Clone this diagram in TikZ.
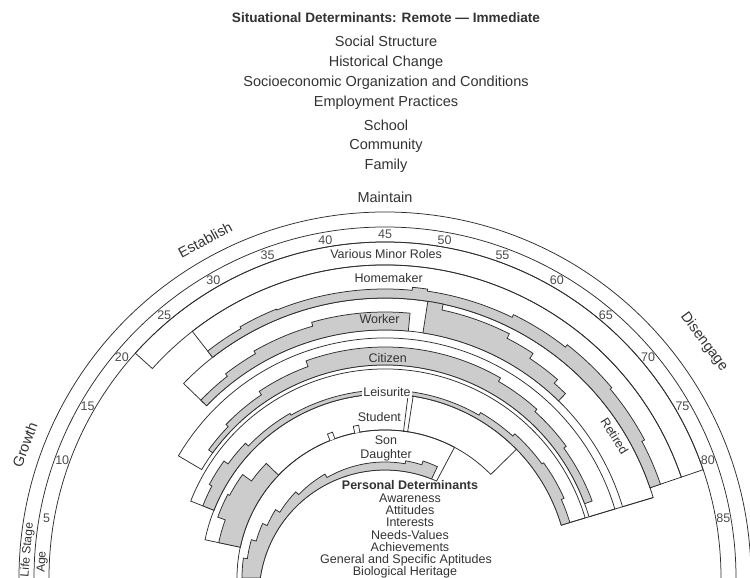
\documentclass[tikz,border=0pt]{standalone}
\usepackage{fontspec}
\setmainfont{Liberation Sans}
% inner edge of the Son/Daughter track (a slightly lowered circle)
\pgfmathdeclarefunction{innerR}{1}{\pgfmathparse{-18*sin(#1)+sqrt(324*sin(#1)*sin(#1)+15552)}}
% age a sits at polar angle 180-2a around the centre of the rainbow
\newcommand\roletrack[4]{% inner radius, outer radius, first age, last age
  \draw[ink] ({180-2*(#3)}:#1) -- ({180-2*(#3)}:#2)
    arc[start angle={180-2*(#3)}, end angle={180-2*(#4)}, radius=#2]
    -- ({180-2*(#4)}:#1)
    arc[start angle={180-2*(#4)}, end angle={180-2*(#3)}, radius=#1] -- cycle;}
\newcommand\roleshade[4]{% inner radius, first age, last age, steps age/age/outer radius
  \filldraw[shadeband] ({180-2*(#2)}:#1)
    \foreach \sa/\sb/\sr in {#4}{ -- ({180-2*\sa}:\sr)
      arc[start angle={180-2*\sa}, end angle={180-2*\sb}, radius=\sr] }
    -- ({180-2*(#3)}:#1)
    arc[start angle={180-2*(#3)}, end angle={180-2*(#2)}, radius=#1] -- cycle;}
\begin{document}
\begin{tikzpicture}[x=1pt,y=1pt,
  ink/.style={draw=black!82, line width=0.75pt},
  shadeband/.style={fill=black!20, draw=black!82, line width=0.75pt},
  lab/.style={text=black!80, font=\fontsize{12.5}{13}\selectfont, inner sep=1pt},
  biglab/.style={text=black!80, font=\fontsize{14.5}{15}\selectfont, inner sep=1pt},
  agelab/.style={text=black!70, font=\fontsize{12.5}{13}\selectfont, inner sep=0pt},
  perslab/.style={text=black!80, font=\fontsize{12.5}{13}\selectfont, inner sep=0pt},
]
\useasboundingbox (0,0) rectangle (750,578);
\fill[white] (0,0) rectangle (750,578);

% situational determinants
\node[biglab, font=\bfseries\fontsize{13.6}{14}\selectfont] (sit) at (386,560) {Situational Determinants: Remote — Immediate};
\node[biglab] (soc) at (386,537) {Social Structure};
\node[biglab] (his) at (386,515) {Historical Change};
\node[biglab] (eco) at (386,495) {Socioeconomic Organization and Conditions};
\node[biglab] (emp) at (386,475) {Employment Practices};
\node[biglab] (sch) at (386,453) {School};
\node[biglab] (com) at (386,432) {Community};
\node[biglab] (fam) at (386,412) {Family};

\begin{scope}[shift={(385,0)}]
  % life stage and age rings
  \draw[ink] (0:366) arc[start angle=0, end angle=180, radius=366];
  \draw[ink] (0:351) arc[start angle=0, end angle=180, radius=351];
  \draw[ink] (0:336) arc[start angle=0, end angle=180, radius=336];

  % role tracks
  \roletrack{313}{336}{21}{80.6}
  \roletrack{280}{313}{26}{80.6}
  \roletrack{248}{280}{22}{81.65}
  \roletrack{213}{240}{15.3}{81.65}
  \roletrack{184}{209}{10.8}{81.65}
  \roletrack{148}{184}{6}{67.8}
  \draw[ink] ({180-2*81.65}:184) -- ({180-2*81.65}:280);
  \draw[ink] plot[domain=180:62, samples=60] (\x:{innerR(\x)})
    -- (62:148) arc[start angle=62, end angle=180, radius=148];

  % shaded involvement
  \roleshade{280}{26}{80.6}{26/30/288, 30/34/290, 34/40/289, 40/47.7/289, 47.7/49.2/292, 49.2/58/290, 58/64/293, 64/70/296, 70/76/294, 76/80.6/291}
  \roleshade{248}{22}{47.7}{22/26/256, 26/30/259, 30/37/262, 37/47.7/266}
  \roleshade{248}{49.4}{67.2}{49.4/51/280, 51/58.5/274, 58.5/61.7/269, 61.7/65.5/263, 65.5/67.2/258}
  \roleshade{213}{18}{79.8}{18/22/218, 22/28/221, 28/35/225, 35/60/231, 60/66/227, 66/72/224, 72/79.8/221}
  \roleshade{184}{10.8}{81.65}{10.8/14/196, 14/18/199, 18/22/194, 22/30/190, 30/60/188, 60/66/191, 66/72/194, 72/78/196, 78/81.65/193}
  \roleshade{148}{6}{22}{6/10/170, 10/14/178, 14/18/176, 18/22/165}
  \filldraw[shadeband] (180:124.7)
    \foreach \sa/\sb/\sr in {0/4/143, 4/8/139, 8/12/134, 12/16/129, 16/22/124, 22/30/120, 30/50/116, 50/54/119, 54/57.6/123}{
      -- ({180-2*\sa}:\sr) arc[start angle={180-2*\sa}, end angle={180-2*\sb}, radius=\sr] }
    -- plot[domain=64.8:180, samples=60] (\x:{innerR(\x)}) -- cycle;

  % short student spells
  \filldraw[ink, fill=white] ({180-2*34.1}:148) -- ({180-2*34.1}:155) arc[start angle={180-2*34.1}, end angle={180-2*35.1}, radius=155] -- ({180-2*35.1}:148);
  \filldraw[ink, fill=white] ({180-2*39.1}:148) -- ({180-2*39.1}:155) arc[start angle={180-2*39.1}, end angle={180-2*40.1}, radius=155] -- ({180-2*40.1}:148);
  \roletrack{148}{184}{48.6}{49.4}

  % ages
  \foreach \a in {5,10,...,85}
    \node[agelab] (age\a) at ({180-2*\a}:343.5) {\a};

  % life stages
  \node[biglab] (grow) at (159.7:384) [rotate=69.7] {Growth};
  \node[biglab] (est) at (118:383) [rotate=28] {Establish};
  \node[biglab] (mai) at (90:381) {Maintain};
  \node[biglab] (dis) at (36.5:397) [rotate=-53.5] {Disengage};
  \node[lab, font=\fontsize{12}{12}\selectfont] (ls) at (175.5:358.6) [rotate=85] {Life Stage};
  \node[lab, font=\fontsize{12}{12}\selectfont] (agetitle) at (177.3:343) [rotate=87] {Age};

  % roles
  \node[lab] (minor) at (89.8:323.5) {Various Minor Roles};
  \node[lab] (home) at (89.3:300) {Homemaker};
  \node[lab] (work) at (91.2:259) {Worker};
  \node[lab] (cit) at (89.3:220) {Citizen};
  \node[lab, fill=white] (leis) at (89.4:186) {Leisurite};
  \node[lab] (stud) at (92:161) {Student};
  \node[lab] (son) at (89.6:138) {Son};
  \node[lab] (dau) at (89.5:123) {Daughter};
  \node[lab] (ret) at (31.7:270) [rotate=-58] {Retired};
\end{scope}

% personal determinants
\node[perslab, font=\bfseries\fontsize{12.5}{13}\selectfont] (pers) at (410,93) {Personal Determinants};
\node[perslab] (awa) at (410,80) {Awareness};
\node[perslab] (att) at (410,68) {Attitudes};
\node[perslab] (int) at (410,56) {Interests};
\node[perslab] (nee) at (410,43) {Needs-Values};
\node[perslab] (ach) at (410,31) {Achievements};
\node[perslab] (gen) at (406,18) {General and Specific Aptitudes};
\node[perslab] (bio) at (405,6) {Biological Heritage};
\end{tikzpicture}
\end{document}
